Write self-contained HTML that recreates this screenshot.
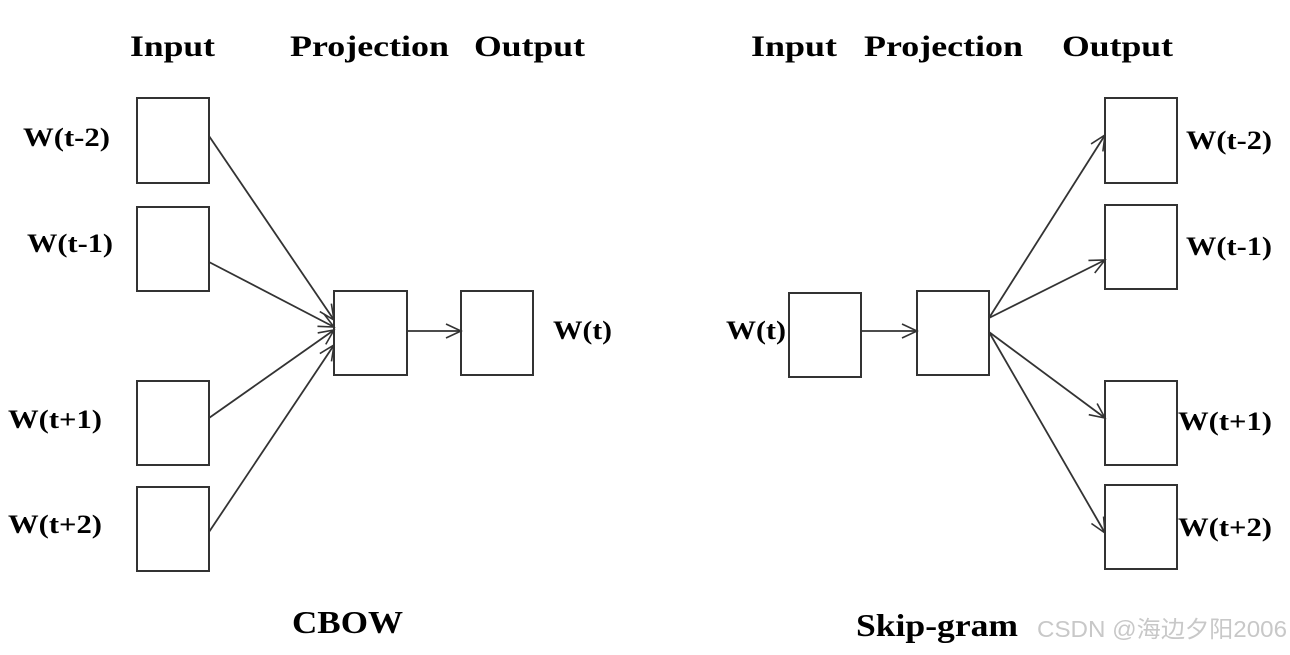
<!DOCTYPE html>
<html><head><meta charset="utf-8"><style>
html,body{margin:0;padding:0;background:#fff;}
svg text{font-family:"Liberation Serif",serif;font-weight:bold;fill:#000;}
</style></head><body>
<svg width="1290" height="650" viewBox="0 0 1290 650" xmlns="http://www.w3.org/2000/svg">
<defs>
<marker id="a" markerWidth="20" markerHeight="20" refX="18" refY="10" orient="auto" markerUnits="userSpaceOnUse">
<path d="M3,3 L18,10 L3,17" fill="none" stroke="#333" stroke-width="1.6"/>
</marker>
</defs>
<g fill="#fff" stroke="#333" stroke-width="2">
<rect x="137" y="98" width="72" height="85"/>
<rect x="137" y="207" width="72" height="84"/>
<rect x="137" y="381" width="72" height="84"/>
<rect x="137" y="487" width="72" height="84"/>
<rect x="334" y="291" width="73" height="84"/>
<rect x="461" y="291" width="72" height="84"/>
<rect x="789" y="293" width="72" height="84"/>
<rect x="917" y="291" width="72" height="84"/>
<rect x="1105" y="98" width="72" height="85"/>
<rect x="1105" y="205" width="72" height="84"/>
<rect x="1105" y="381" width="72" height="84"/>
<rect x="1105" y="485" width="72" height="84"/>
</g>
<g stroke="#333" stroke-width="1.8" marker-end="url(#a)">
<line x1="209" y1="136" x2="334" y2="320"/>
<line x1="209" y1="262" x2="334" y2="327"/>
<line x1="209" y1="418" x2="334" y2="330"/>
<line x1="209" y1="532" x2="334" y2="345"/>
<line x1="407" y1="331" x2="461" y2="331"/>
<line x1="861" y1="331" x2="917" y2="331"/>
<line x1="989" y1="318" x2="1105" y2="135"/>
<line x1="989" y1="318" x2="1105" y2="260"/>
<line x1="989" y1="332" x2="1105" y2="418"/>
<line x1="989" y1="332" x2="1105" y2="533"/>
</g>
<g font-size="30" lengthAdjust="spacingAndGlyphs">
<text x="130" y="56" textLength="85" lengthAdjust="spacingAndGlyphs">Input</text>
<text x="290" y="56" textLength="159" lengthAdjust="spacingAndGlyphs">Projection</text>
<text x="474" y="56" textLength="111" lengthAdjust="spacingAndGlyphs">Output</text>
<text x="751" y="56" textLength="86" lengthAdjust="spacingAndGlyphs">Input</text>
<text x="864" y="56" textLength="159" lengthAdjust="spacingAndGlyphs">Projection</text>
<text x="1062" y="56" textLength="111" lengthAdjust="spacingAndGlyphs">Output</text>
<text x="292" y="633" font-size="32" textLength="111" lengthAdjust="spacingAndGlyphs">CBOW</text>
<text x="856" y="636" font-size="32" textLength="162" lengthAdjust="spacingAndGlyphs">Skip-gram</text>
</g>
<g font-size="26">
<text x="23" y="146" textLength="87" lengthAdjust="spacingAndGlyphs">W(t-2)</text>
<text x="27" y="252" textLength="86" lengthAdjust="spacingAndGlyphs">W(t-1)</text>
<text x="8" y="428" textLength="94" lengthAdjust="spacingAndGlyphs">W(t+1)</text>
<text x="8" y="533" textLength="94" lengthAdjust="spacingAndGlyphs">W(t+2)</text>
<text x="553" y="339" textLength="59" lengthAdjust="spacingAndGlyphs">W(t)</text>
<text x="726" y="339" textLength="60" lengthAdjust="spacingAndGlyphs">W(t)</text>
<text x="1186" y="149" textLength="86" lengthAdjust="spacingAndGlyphs">W(t-2)</text>
<text x="1186" y="255" textLength="86" lengthAdjust="spacingAndGlyphs">W(t-1)</text>
<text x="1178" y="430" textLength="94" lengthAdjust="spacingAndGlyphs">W(t+1)</text>
<text x="1178" y="536" textLength="94" lengthAdjust="spacingAndGlyphs">W(t+2)</text>
</g>
<text x="1037" y="637" font-size="23" textLength="250" lengthAdjust="spacingAndGlyphs" style="font-family:'Liberation Sans','Noto Sans CJK SC',sans-serif;font-weight:normal;fill:#c8c8c8">CSDN @海边夕阳2006</text>
</svg>
</body></html>
